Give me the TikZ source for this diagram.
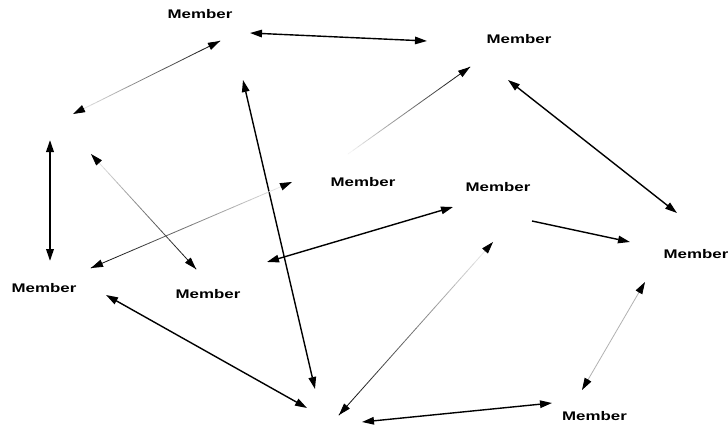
\documentclass[tikz,border=0pt]{standalone}
\usepackage{fontspec}
\setmainfont{Liberation Sans}
\usepackage{graphicx}
\usetikzlibrary{arrows.meta,calc}
\tikzset{
  >={Triangle[length=12pt,width=7.5pt]},
  lbl/.style={inner sep=0pt, anchor=center, font=\bfseries\fontsize{12.5}{14}\selectfont},
  blk/.style={line width=1.4pt, black},
  thk/.style={line width=2pt, black},
  lgt/.style={line width=0.8pt, black!30},
  gseg/.style={line width=0.8pt, line cap=round},
}
\newcommand\memb{\scalebox{1.35}[1]{Member}}
% gradient line from #1 (light) to #2 (dark)
\newcommand\gradline[2]{%
  \foreach \i in {0,...,23}{%
    \pgfmathsetmacro\ta{\i/24}%
    \pgfmathsetmacro\tb{(\i+1)/24}%
    \pgfmathsetmacro\pp{4+\i*4.1}%
    \draw[gseg, black!\pp] ($(#1)!\ta!(#2)$) -- ($(#1)!\tb!(#2)$);
  }}
\begin{document}
\begin{tikzpicture}[x=1pt,y=-1pt]
\useasboundingbox[fill=white] (0,0) rectangle (728,428);
% labels
\node[lbl] (m1) at (200,14.5) {\memb};
\node[lbl] (m2) at (519,39) {\memb};
\node[lbl] (m3) at (363,182) {\memb};
\node[lbl] (m4) at (498,187.5) {\memb};
\node[lbl] (m5) at (696,254) {\memb};
\node[lbl] (m6) at (44,288) {\memb};
\node[lbl] (m7) at (208,294.5) {\memb};
\node[lbl] (m8) at (594.5,416) {\memb};
% endpoints
\coordinate (a1) at (250,33);   \coordinate (b1) at (427,41);
\coordinate (a2) at (220,41);   \coordinate (b2) at (73,114);
\coordinate (a3) at (50,140);   \coordinate (b3) at (50,261);
\coordinate (a4) at (91,154);   \coordinate (b4) at (196,269);
\coordinate (a5) at (292,182);  \coordinate (b5) at (91,268);
\coordinate (a6) at (243,80);   \coordinate (b6) at (315,389);
\coordinate (a7) at (348,154);  \coordinate (b7) at (470,67);
\coordinate (a8) at (508,80);   \coordinate (b8) at (677,213);
\coordinate (a9) at (453,207);  \coordinate (b9) at (267,262);
\coordinate (a10) at (532,221); \coordinate (b10) at (630,242);
\coordinate (a11) at (493,242); \coordinate (b11) at (339,415);
\coordinate (a12) at (645,282); \coordinate (b12) at (582,390);
\coordinate (a13) at (362,422); \coordinate (b13) at (552,403);
\coordinate (a14) at (106,295); \coordinate (b14) at (307,408);
% solid arrows
\draw[blk, <->] (a1) -- (b1);
\draw[thk, <->] (a3) -- (b3);
\draw[blk, <->] (a6) -- (b6);
\draw[blk, <->] (a8) -- (b8);
\draw[blk, <->] (a9) -- (b9);
\draw[blk, ->] (a10) -- (b10);
\draw[blk, <->] (a13) -- (b13);
\draw[blk, <->] (a14) -- (b14);
% light arrow with black heads
\draw[lgt] ($(a12)!10pt!(b12)$) -- ($(b12)!10pt!(a12)$);
\draw[gseg,black,->] ($(a12)!12pt!(b12)$) -- (a12);
\draw[gseg,black,->] ($(b12)!12pt!(a12)$) -- (b12);
% gradient arrows (light end first)
\gradline{b2}{a2}
\draw[gseg,black,->] ($(b2)!12pt!(a2)$) -- (b2);
\draw[gseg,black,->] ($(a2)!12pt!(b2)$) -- (a2);
\gradline{a4}{b4}
\draw[gseg,black,->] ($(a4)!12pt!(b4)$) -- (a4);
\draw[gseg,black,->] ($(b4)!12pt!(a4)$) -- (b4);
\gradline{a5}{b5}
\draw[gseg,black,->] ($(a5)!12pt!(b5)$) -- (a5);
\draw[gseg,black,->] ($(b5)!12pt!(a5)$) -- (b5);
\gradline{a7}{b7}
\draw[gseg,black,->] ($(b7)!12pt!(a7)$) -- (b7);
\gradline{a11}{b11}
\draw[gseg,black,->] ($(a11)!12pt!(b11)$) -- (a11);
\draw[gseg,black,->] ($(b11)!12pt!(a11)$) -- (b11);
\end{tikzpicture}
\end{document}
